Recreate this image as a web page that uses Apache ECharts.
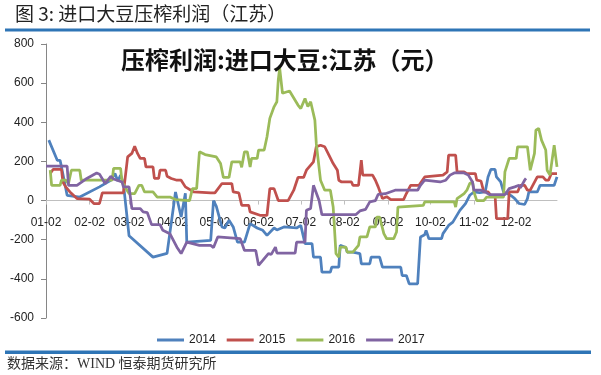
<!DOCTYPE html>
<html>
<head>
<meta charset="utf-8">
<script src="https://cdn.jsdelivr.net/npm/echarts@6.0.0/dist/echarts.min.js"></script>
<style>
html,body{margin:0;padding:0;background:#fff;}
#chart{width:601px;height:375px;}
</style>
</head>
<body>
<div id="chart"></div>
<script>
// Month lengths used to build the daily date categories (MM-DD), from 01-02 to 12-31
const monthDays = [31,28,31,30,31,30,31,31,30,31,30,31];
const seriesNames = ['2014','2015','2016','2017'];
const seriesColors = ['#4F81BD','#C0504D','#9BBB59','#8064A2'];
const yTicks = { min: -600, max: 800, interval: 200 };

// [day index from 01-02, value (元)]
const s2014 = [[2,309],[8,206],[10,206],[11,172],[15,27],[24,18],[38,70],[46,104],[49,138],[51,100],[53,130],[55,87],[59,-180],[76,-289],[86,-270],[92,44],[96,-84],[99,37],[100,-212],[117,-203],[119,0],[121,-30],[125,-135],[127,-140],[130,-101],[133,-135],[136,-212],[141,-212],[145,-118],[150,-140],[154,-152],[157,-178],[162,-140],[164,-150],[169,-135],[178,-140],[181,-127],[184,-220],[189,-220],[190,-289],[195,-289],[196,-366],[202,-366],[203,-340],[208,-340],[209,-229],[213,-240],[214,-263],[218,-263],[223,-271],[224,-323],[230,-323],[231,-289],[237,-289],[239,-340],[252,-340],[253,-383],[256,-383],[258,-425],[264,-425],[266,-186],[269,-175],[270,-152],[272,-195],[281,-195],[282,-169],[286,-127],[289,-110],[294,-50],[298,-15],[301,27],[304,44],[308,40],[312,44],[314,120],[316,159],[319,159],[320,121],[323,95],[325,44],[328,35],[331,22],[333,10],[336,-15],[340,-20],[342,10],[343,44],[349,44],[351,78],[361,78],[363,121]];
const s2015 = [[3,138],[5,159],[11,159],[12,95],[14,70],[17,44],[22,10],[31,7],[34,-15],[38,-15],[40,39],[55,39],[58,223],[61,241],[63,278],[65,241],[67,215],[70,215],[71,172],[76,172],[77,113],[80,113],[81,155],[85,155],[86,124],[89,113],[93,104],[96,104],[99,70],[105,44],[117,39],[120,39],[125,87],[132,87],[133,44],[137,39],[139,-24],[144,-24],[145,-58],[152,-75],[157,-75],[159,61],[162,61],[165,0],[172,0],[176,53],[179,118],[183,118],[185,155],[190,198],[192,275],[195,283],[198,275],[201,232],[204,189],[207,155],[208,104],[210,95],[217,95],[218,78],[222,78],[224,206],[225,130],[232,130],[234,104],[236,70],[239,10],[242,20],[245,5],[254,5],[256,36],[259,78],[265,78],[269,121],[282,130],[285,147],[286,232],[291,232],[292,147],[297,147],[299,138],[305,138],[306,104],[309,100],[311,44],[314,44],[316,27],[319,27],[320,-92],[328,-92],[329,44],[335,44],[337,78],[340,78],[342,53],[344,53],[349,121],[353,121],[355,104],[357,104],[359,138],[363,138]];
const s2016 = [[3,155],[4,78],[10,78],[11,104],[14,104],[16,87],[18,155],[24,155],[25,104],[47,104],[48,164],[53,164],[54,95],[59,36],[63,36],[66,78],[68,78],[70,44],[76,44],[79,18],[88,18],[92,5],[102,0],[104,61],[107,61],[109,249],[113,235],[121,223],[124,189],[126,118],[130,118],[132,198],[138,198],[139,170],[141,249],[143,249],[145,172],[146,215],[150,215],[151,258],[155,258],[157,326],[159,420],[162,479],[164,505],[165,616],[166,676],[168,548],[173,560],[179,488],[181,470],[184,522],[186,480],[188,505],[191,411],[192,292],[195,104],[198,53],[202,53],[204,-33],[206,-271],[208,-289],[209,-238],[213,-238],[214,-263],[218,-263],[222,-229],[223,-186],[228,-186],[230,-135],[234,-135],[235,-84],[237,-84],[240,-169],[242,-195],[247,-195],[249,-161],[250,-33],[268,-25],[269,-7],[290,-7],[291,-33],[292,10],[297,36],[299,53],[301,87],[303,95],[304,44],[306,0],[311,0],[313,18],[325,18],[326,147],[329,215],[334,215],[335,275],[342,275],[344,155],[347,241],[348,360],[350,369],[352,309],[355,258],[356,155],[358,130],[361,283],[362,283],[363,172]];
const s2017 = [[0,176],[15,176],[16,78],[22,78],[29,113],[36,141],[38,135],[42,87],[46,124],[48,110],[54,95],[55,70],[59,70],[61,-41],[67,-41],[69,-58],[72,-62],[75,-123],[81,-123],[83,-152],[88,-169],[93,-238],[96,-271],[100,-212],[109,-229],[117,-229],[119,-240],[122,-186],[131,-190],[138,-195],[141,-255],[149,-255],[151,-331],[154,-306],[158,-271],[160,-275],[163,-238],[164,-268],[177,-268],[178,-212],[184,-212],[185,-50],[188,-40],[190,78],[191,78],[194,0],[196,-72],[220,-72],[223,-53],[227,-45],[230,-7],[234,0],[236,32],[241,35],[248,53],[264,53],[266,78],[269,104],[280,95],[284,104],[287,130],[290,141],[297,141],[300,130],[303,95],[304,53],[309,53],[312,44],[315,30],[326,30],[329,61],[333,70],[336,78],[337,65],[340,104],[341,113]];

const categories = [];
for (let m = 0; m < 12; m++) {
  for (let d = (m === 0 ? 2 : 1); d <= monthDays[m]; d++) {
    categories.push(String(m + 1).padStart(2, '0') + '-' + String(d).padStart(2, '0'));
  }
}
const isMonthMark = (idx, val) => val.slice(3) === '02';

// grid geometry
const gridTop = 44, gridBottom = 57, chartH = 375;
const plotH = chartH - gridTop - gridBottom;
const zeroFromBottom = plotH * (0 - yTicks.min) / (yTicks.max - yTicks.min);

const seriesData = [s2014, s2015, s2016, s2017];
const chart = echarts.init(document.getElementById('chart'), null, { renderer: 'canvas' });
chart.setOption({
  animation: false,
  backgroundColor: '#fff',
  title: [
    { text: '压榨利润:进口大豆:江苏（元）', left: 116, top: 43,
      textStyle: { fontFamily: 'Noto Sans CJK SC', fontSize: 24, fontWeight: 'bold', color: '#111' } }
  ],
  graphic: [
    { type: 'text', left: 15, top: 4, style: { text: '图 3: 进口大豆压榨利润（江苏）', fontFamily: 'Noto Sans CJK SC', fontSize: 19, fill: '#222' } },
    { type: 'rect', shape: { x: 5, y: 28.5, width: 585, height: 3 }, style: { fill: '#2E75B6' } },
    { type: 'rect', shape: { x: 5, y: 350.5, width: 586, height: 3.5 }, style: { fill: '#2E75B6' } },
    { type: 'text', left: 7, top: 357, style: { text: '数据来源：WIND 恒泰期货研究所', fontFamily: 'Liberation Serif, Noto Sans CJK SC', fontSize: 14, fill: '#333' } }
  ],
  legend: {
    data: seriesNames,
    left: 152, top: 329,
    icon: 'rect',
    itemWidth: 27, itemHeight: 3, itemGap: 11,
    textStyle: { fontFamily: 'Liberation Sans, Arial', fontSize: 12, color: '#222' }
  },
  grid: { left: 46, right: 44, top: gridTop, bottom: gridBottom, containLabel: false },
  xAxis: {
    type: 'category',
    data: categories,
    boundaryGap: false,
    position: 'bottom',
    offset: -zeroFromBottom,
    axisLine: { onZero: false, lineStyle: { color: '#BFBFBF', width: 1 } },
    axisTick: { show: true, interval: isMonthMark, length: 4, lineStyle: { color: '#BFBFBF' } },
    axisLabel: { interval: isMonthMark, margin: 16, fontFamily: 'Liberation Sans, Arial', fontSize: 12, color: '#222' },
    splitLine: { show: false }
  },
  yAxis: {
    type: 'value',
    min: yTicks.min, max: yTicks.max, interval: yTicks.interval,
    axisLine: { show: true, lineStyle: { color: '#868686', width: 1 } },
    axisTick: { show: true, length: 5, lineStyle: { color: '#868686' } },
    axisLabel: { margin: 12, fontFamily: 'Liberation Sans, Arial', fontSize: 12, color: '#222' },
    splitLine: { show: false }
  },
  series: seriesNames.map((n, i) => ({
    name: n,
    type: 'line',
    data: seriesData[i],
    symbol: 'none',
    showSymbol: false,
    lineStyle: { color: seriesColors[i], width: 2.75 },
    itemStyle: { color: seriesColors[i] },
    z: 2 + i
  }))
});
</script>
</body>
</html>
